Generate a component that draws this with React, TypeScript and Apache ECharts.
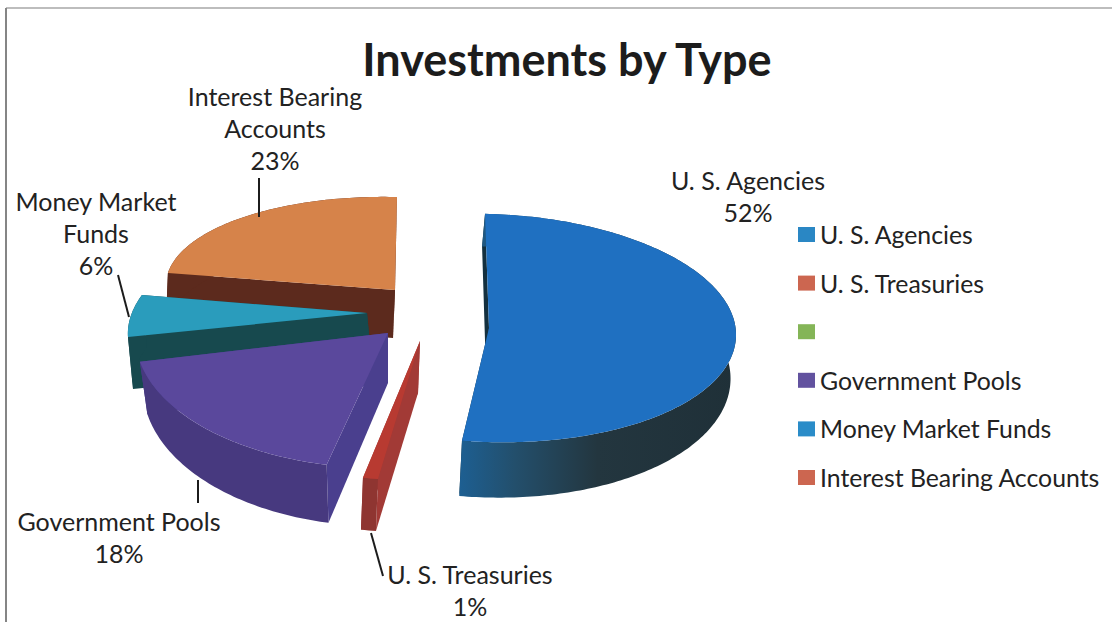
import React, { useEffect, useRef } from "react";
import * as echarts from "echarts";

const categories = ["U. S. Agencies", "U. S. Treasuries", " ", "Government Pools", "Money Market Funds", "Interest Bearing Accounts"];
const shares = [52, 1, 0, 18, 6, 23];
const labelLines = [["U. S. Agencies"], ["U. S. Treasuries"], [], ["Government Pools"], ["Money Market", "Funds"], ["Interest Bearing", "Accounts"]];
const legendColors = ["#2a87c4", "#cc6650", "#84b557", "#62529f", "#2a8cc8", "#cc6650"];
const START_DEG = -1.5;
const FONT = "Lato";

type Geo = {
  ax: number; ay: number; a: number; b: number; e: number; d: number;
  bx: number; by: number; sa: number; sd: number;
  top: string; outer: any; inner: string;
  labelX: number; labelY: number; leader: number[];
  z: number;
};

const horiz = (stops: [number, string][]) =>
  new echarts.graphic.LinearGradient(0, 0, 1, 0, stops.map(([offset, color]) => ({ offset, color })));

const geometry: (Geo | null)[] = [
  { ax: 489, ay: 328, a: 247, b: 2.5, e: 8, d: 114, bx: 486, by: 372, sa: 0.99, sd: 1.1,
    top: "#1f70c1", outer: horiz([[0, "#1d5f92"], [0.2, "#234f6c"], [0.5, "#23363f"], [1, "#1f3038"]]), inner: "#14303f",
    labelX: 748, labelY: 196, leader: [], z: 5 },
  { ax: 420, ay: 341, a: 243, b: 18, e: 3, d: 139, bx: 418, by: 393, sa: 1, sd: 1,
    top: "#b83a31", outer: "#8f3531", inner: "#a23a36",
    labelX: 470, labelY: 590, leader: [371, 533, 383, 576], z: 4 },
  null,
  { ax: 388, ay: 333, a: 252, b: 20.9, e: 8.6, d: 135, bx: 388, by: 383, sa: 0.97, sd: 1.06,
    top: "#5a489c", outer: "#47397f", inner: "#4a3f8e",
    labelX: 119, labelY: 537, leader: [198, 480, 198, 503], z: 3 },
  { ax: 367, ay: 313, a: 232, b: 58, e: 6.9, d: 111.9, bx: 372, by: 365, sa: 1, sd: 1,
    top: "#2a9cbc", outer: "#17494e", inner: "#17494e",
    labelX: 96, labelY: 233, leader: [118, 275, 129, 317], z: 2 },
  { ax: 395, ay: 290, a: 229, b: 8, e: 7.9, d: 92.8, bx: 393, by: 338, sa: 1, sd: 1,
    top: "#d6834a", outer: "#5c2a1d", inner: "#5c2a1d",
    labelX: 275, labelY: 128, leader: [259, 178, 259, 217], z: 1 },
];

const total = shares.reduce((p, c) => p + c, 0);
const startAngles: number[] = [];
shares.reduce((acc, v, i) => {
  startAngles[i] = acc;
  return acc + (v / total) * 360;
}, START_DEG);

function sliceChildren(i: number, value: number): any[] {
  const g = geometry[i];
  if (!g || !value) return [];
  const t1 = startAngles[i];
  const t2 = t1 + (value / total) * 360;
  const topPt = (deg: number) => {
    const r = (deg * Math.PI) / 180;
    const s = Math.sin(r), c = Math.cos(r);
    return [g.ax + g.a * s + g.b * c, g.ay + g.e * s - g.d * c];
  };
  const botPt = (deg: number) => {
    const r = (deg * Math.PI) / 180;
    const s = Math.sin(r), c = Math.cos(r);
    return [g.bx + g.sa * (g.a * s + g.b * c), g.by + g.sa * g.e * s - g.sd * g.d * c];
  };
  const steps = Math.max(4, Math.ceil(t2 - t1));
  const deg = (k: number) => t1 + ((t2 - t1) * k) / steps;
  const topArc: number[][] = [];
  const botArc: number[][] = [];
  for (let k = 0; k <= steps; k++) {
    topArc.push(topPt(deg(k)));
    botArc.push(botPt(deg(k)));
  }
  const apexT = [g.ax, g.ay];
  const apexB = [g.bx, g.by];
  const poly = (points: number[][], fill: any) => ({
    type: "polygon", shape: { points }, style: { fill, stroke: "none" }, silent: true,
  });
  const out: any[] = [
    poly([topPt(t2), apexT, apexB, botPt(t2)], g.inner),
    poly([topPt(t1), apexT, apexB, botPt(t1)], g.inner),
    poly([...topArc, ...botArc.slice().reverse()], g.outer),
    poly([apexT, ...topArc], g.top),
  ];
  if (g.leader.length) {
    out.push({
      type: "line",
      shape: { x1: g.leader[0], y1: g.leader[1], x2: g.leader[2], y2: g.leader[3] },
      style: { stroke: "#1c1c1c", lineWidth: 2 }, silent: true,
    });
  }
  out.push({
    type: "text",
    silent: true,
    style: {
      text: [...labelLines[i], `${value}%`].join("\n"),
      x: g.labelX, y: g.labelY, align: "center", verticalAlign: "middle",
      fontFamily: FONT, fontSize: 25, lineHeight: 32, fill: "#222222",
    },
  });
  return out;
}

export default function App() {
  const ref = useRef<HTMLDivElement>(null);
  useEffect(() => {
    const chart = echarts.init(ref.current!, null, { renderer: "svg" });
    chart.setOption({
      animation: false,
      backgroundColor: "#ffffff",
      title: {
        text: "Investments by Type",
        left: 562, top: 31, textAlign: "center",
        textStyle: { fontFamily: FONT, fontSize: 45, fontWeight: "bold", color: "#1c1c1c" },
      },
      legend: {
        orient: "vertical", left: 793, top: 217,
        itemWidth: 17, itemHeight: 15, itemGap: 23.6, icon: "rect",
        data: categories,
        textStyle: { fontFamily: FONT, fontSize: 24.8, color: "#222222", lineHeight: 24 },
        selectedMode: false,
      },
      graphic: [
        { type: "line", shape: { x1: 6, y1: 8, x2: 1112, y2: 8 }, style: { stroke: "#bdbdbd", lineWidth: 2 }, silent: true },
        { type: "line", shape: { x1: 6, y1: 8, x2: 6, y2: 622 }, style: { stroke: "#858585", lineWidth: 2 }, silent: true },
      ],
      series: categories.map((name, i) => ({
        type: "custom",
        name,
        coordinateSystem: "none",
        z: geometry[i]?.z ?? 1,
        itemStyle: { color: legendColors[i] },
        data: [shares[i]],
        renderItem: (_p: any, api: any) => ({ type: "group", children: sliceChildren(i, api.value(0)) }),
      })),
    });
    return () => chart.dispose();
  }, []);
  return <div ref={ref} style={{ position: "absolute", left: 0, top: 0, width: 1112, height: 622 }} />;
}
